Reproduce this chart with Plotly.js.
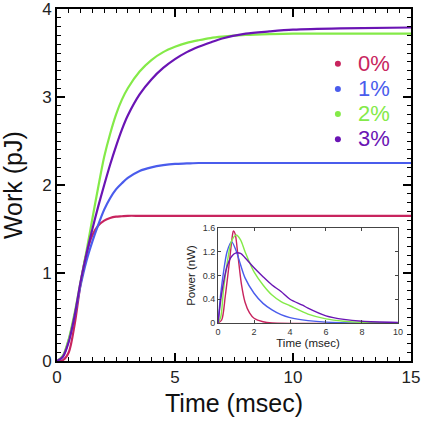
<!DOCTYPE html>
<html>
<head>
<meta charset="utf-8">
<script src="https://cdn.plot.ly/plotly-3.0.1.min.js"></script>
<style>html,body{margin:0;padding:0;background:#fff;}#chart{width:421px;height:425px;}</style>
</head>
<body>
<div id="chart"></div>
<script>
// ---- Data ----
const seriesNames = ['0%', '1%', '2%', '3%'];
const seriesColors = ['#c8245e', '#4a5cec', '#84ea48', '#6a14b4'];

// Main plot: Work (pJ) vs Time (msec)
const workTime = [0, 0.25, 0.5, 0.75, 1, 1.25, 1.5, 1.75, 2, 2.25, 2.5, 2.75, 3, 3.5, 4, 4.5, 5, 5.5, 6, 6.5, 7, 8, 9, 10, 12, 15];
const work0 = [0, 0.01, 0.1, 0.42, 0.88, 1.22, 1.43, 1.54, 1.595, 1.625, 1.64, 1.645, 1.65, 1.65, 1.65, 1.65, 1.65, 1.65, 1.65, 1.65, 1.65, 1.65, 1.65, 1.65, 1.65, 1.65];
const work1 = [0, 0.05, 0.24, 0.52, 0.86, 1.14, 1.36, 1.55, 1.72, 1.85, 1.95, 2.02, 2.08, 2.16, 2.2, 2.225, 2.24, 2.245, 2.25, 2.25, 2.25, 2.25, 2.25, 2.25, 2.25, 2.25];
const work2 = [0, 0.06, 0.25, 0.55, 0.9, 1.25, 1.62, 1.98, 2.32, 2.58, 2.8, 2.97, 3.1, 3.29, 3.42, 3.51, 3.57, 3.615, 3.645, 3.67, 3.685, 3.705, 3.715, 3.72, 3.72, 3.72];
const work3 = [0, 0.05, 0.22, 0.52, 0.9, 1.22, 1.5, 1.76, 2.0, 2.23, 2.44, 2.63, 2.79, 3.03, 3.2, 3.33, 3.43, 3.51, 3.57, 3.62, 3.665, 3.72, 3.745, 3.765, 3.78, 3.79];

// Inset: Power (nW) vs Time (msec)
const powerTime0 = [0, 0.2, 0.4, 0.6, 0.8, 0.85, 0.95, 1.1, 1.3, 1.5, 1.75, 2.0, 2.5, 3, 10];
const power0 = [0, 0.05, 0.45, 0.95, 1.48, 1.55, 1.5, 1.15, 0.65, 0.35, 0.17, 0.08, 0.02, 0, 0];
const powerTime1 = [0, 0.15, 0.3, 0.5, 0.75, 1.0, 1.25, 1.5, 2.0, 2.5, 3.0, 3.5, 4, 5, 6, 8, 10];
const power1 = [0, 0.5, 0.85, 1.2, 1.37, 1.22, 0.98, 0.76, 0.5, 0.33, 0.22, 0.14, 0.09, 0.04, 0.015, 0, 0];
const powerTime2 = [0, 0.15, 0.3, 0.5, 0.75, 1.0, 1.25, 1.5, 2.0, 2.5, 3.0, 3.5, 4, 5, 6, 7, 8, 10];
const power2 = [0, 0.1, 0.55, 1.0, 1.38, 1.48, 1.4, 1.2, 0.86, 0.64, 0.47, 0.36, 0.29, 0.15, 0.07, 0.03, 0.01, 0];
const powerTime3 = [0, 0.2, 0.5, 0.75, 1.0, 1.25, 1.5, 2.0, 2.5, 3.0, 3.5, 4, 4.7, 5, 6, 7, 8, 10];
const power3 = [0, 0.5, 0.95, 1.12, 1.18, 1.17, 1.1, 0.93, 0.78, 0.64, 0.53, 0.4, 0.3, 0.25, 0.12, 0.06, 0.03, 0.01];

const xTicksMain = [0, 5, 10, 15];
const yTicksMain = [0, 1, 2, 3, 4];
const xTicksInset = [0, 2, 4, 6, 8, 10];
const yTicksInset = [0, 0.4, 0.8, 1.2, 1.6];

// ---- Build traces ----
const workSeries = [work0, work1, work2, work3];
const powerSeries = [[powerTime0, power0], [powerTime1, power1], [powerTime2, power2], [powerTime3, power3]];
const traces = [];
workSeries.forEach((w, i) => {
  traces.push({
    x: workTime, y: w, type: 'scatter', mode: 'lines',
    line: {color: seriesColors[i], width: 2.2, shape: 'spline', smoothing: 0.8},
    showlegend: false, hoverinfo: 'skip', xaxis: 'x', yaxis: 'y'
  });
});
powerSeries.forEach((p, i) => {
  traces.push({
    x: p[0], y: p[1], type: 'scatter', mode: 'lines',
    line: {color: seriesColors[i], width: 1.4, shape: 'spline', smoothing: 0.8},
    showlegend: false, hoverinfo: 'skip', xaxis: 'x2', yaxis: 'y2'
  });
});
seriesNames.forEach((n, i) => {
  traces.push({
    x: [null], y: [null], type: 'scatter', mode: 'markers',
    marker: {color: seriesColors[i], size: 6},
    name: '<span style="color:' + seriesColors[i] + ';font-size:22px">' + n + '</span>',
    showlegend: true, xaxis: 'x', yaxis: 'y'
  });
});

const FONT = 'Liberation Sans, Arial, Helvetica, sans-serif';
const mainAxis = {
  showline: true, linecolor: '#000', linewidth: 2, mirror: 'allticks',
  ticks: 'inside', ticklen: 8, tickwidth: 1.5, tickcolor: '#000',
  showgrid: false, zeroline: false, automargin: false, ticklabeloverflow: 'allow',
  tickfont: {family: FONT, size: 17, color: '#222'}
};
const insetAxis = {
  showline: true, linecolor: '#444', linewidth: 1, mirror: 'allticks',
  ticks: 'inside', ticklen: 3, tickwidth: 1, tickcolor: '#444',
  showgrid: false, zeroline: false,
  tickfont: {family: FONT, size: 9, color: '#333'}
};

const layout = {
  width: 421, height: 425,
  margin: {l: 57, r: 10, t: 9, b: 64},
  paper_bgcolor: '#fff', plot_bgcolor: '#fff',
  font: {family: FONT, color: '#111'},
  xaxis: Object.assign({}, mainAxis, {
    range: [0, 15], tickvals: xTicksMain, ticktext: xTicksMain.map(String),
    minor: {dtick: 0.5, ticklen: 4, tickwidth: 1, tickcolor: '#000', ticks: 'inside'},
    title: {text: 'Time (msec)', font: {family: FONT, size: 25, color: '#111'}, standoff: 8}
  }),
  yaxis: Object.assign({}, mainAxis, {
    range: [0, 4], tickvals: yTicksMain, ticktext: yTicksMain.map(String),
    minor: {dtick: 0.1, ticklen: 4, tickwidth: 1, tickcolor: '#000', ticks: 'inside'}
  }),
  xaxis2: Object.assign({}, insetAxis, {
    domain: [0.455, 0.963], anchor: 'y2', range: [0, 10],
    tickvals: xTicksInset, ticktext: xTicksInset.map(String),
    title: {text: 'Time (msec)', font: {family: FONT, size: 11.5, color: '#222'}, standoff: 3}
  }),
  yaxis2: Object.assign({}, insetAxis, {
    domain: [0.108, 0.378], anchor: 'x2', range: [0, 1.6],
    tickvals: yTicksInset, ticktext: yTicksInset.map(String),
    title: {text: 'Power (nW)', font: {family: FONT, size: 11.5, color: '#222'}, standoff: 4}
  }),
  annotations: [{
    text: 'Work (pJ)', xref: 'paper', yref: 'paper', x: -0.124, y: 0.5,
    xanchor: 'center', yanchor: 'middle', textangle: -90, showarrow: false,
    font: {family: FONT, size: 25, color: '#111'}
  }],
  legend: {
    x: 0.737, y: 0.894, xanchor: 'left', yanchor: 'top',
    bgcolor: 'rgba(0,0,0,0)', borderwidth: 0,
    font: {family: FONT, size: 17}
  },
  showlegend: true
};

Plotly.newPlot('chart', traces, layout, {staticPlot: true, displayModeBar: false});
</script>
</body>
</html>
